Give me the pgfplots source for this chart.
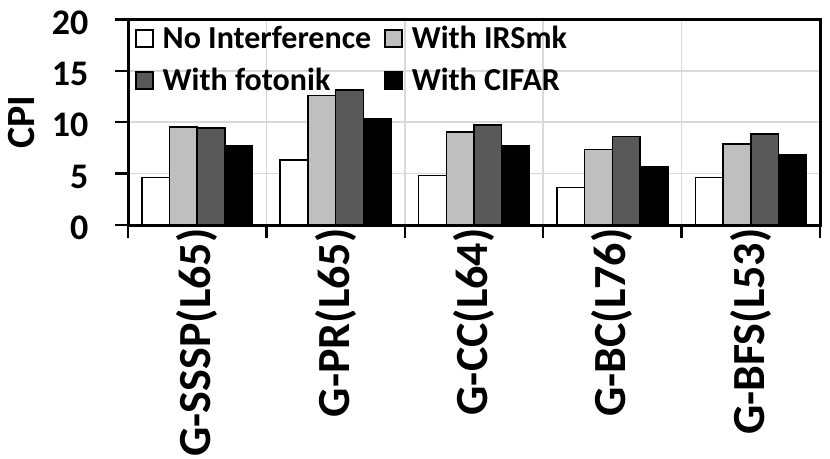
\documentclass[border=0pt]{standalone}
\usepackage{fontspec}
\setmainfont{Carlito}
\usepackage{pgfplots}
\pgfplotsset{compat=1.18}
\definecolor{lgray}{HTML}{BFBFBF}
\definecolor{dgray}{HTML}{595959}
\definecolor{gridc}{HTML}{D9D9D9}
\begin{document}
\begin{tikzpicture}
\begin{axis}[
  at={(128pt,233pt)}, anchor=south west,
  scale only axis, width=692pt, height=205.5pt,
  xmin=-0.5, xmax=4.5, ymin=0, ymax=20,
  ybar=0pt, bar width=0.2,
  xtick={-0.5,0.5,1.5,2.5,3.5,4.5},
  xticklabels={},
  extra x ticks={0,1,2,3,4},
  extra x tick labels={G-SSSP(L65),G-PR(L65),G-CC(L64),G-BC(L76),G-BFS(L53)},
  extra x tick style={grid=none, major tick length=0pt, tick style={draw=none}},
  xticklabel style={rotate=90, anchor=east, font=\fontsize{46}{46}\selectfont\bfseries},
  ytick={0,5,10,15,20},
  tick pos=left,
  tick align=outside,
  major tick length=13pt,
  tick style={black, line width=2.5pt},
  xmajorgrids, ymajorgrids,
  grid style={gridc, line width=1.5pt},
  axis line style={line width=3pt},
  /pgf/number format/assume math mode=true,
  yticklabel style={font=\fontsize{36}{36}\selectfont\bfseries, xshift=-23pt, yshift=-3pt},
  ylabel={CPI},
  every axis y label/.style={at={(axis description cs:0,0.5)}, xshift=-106pt, rotate=90, anchor=center, font=\fontsize{40}{40}\selectfont\bfseries},
  legend columns=2,
  legend cell align=left,
  legend style={draw=none, fill=none, at={(0,1)}, xshift=7pt, yshift=-6pt, anchor=north west,
    inner sep=0pt, font=\fontsize{32}{32}\selectfont\bfseries,
    nodes={inner sep=0pt, text height=23pt, text depth=6pt},
    row sep=13pt,
    /tikz/every even column/.append style={column sep=13pt},
    /tikz/every odd column/.append style={column sep=9pt}},
  legend image code/.code={\draw[#1, line width=1.5pt] (0pt,-7pt) rectangle (17pt,10pt);},
]
\addplot[fill=white, draw=black, line width=1.5pt] coordinates {(0,4.64) (1,6.32) (2,4.83) (3,3.63) (4,4.64)};
\addplot[fill=lgray, draw=black, line width=1.5pt] coordinates {(0,9.56) (1,12.6) (2,9.05) (3,7.36) (4,7.88)};
\addplot[fill=dgray, draw=black, line width=1.5pt] coordinates {(0,9.43) (1,13.16) (2,9.73) (3,8.6) (4,8.88)};
\addplot[fill=black, draw=black, line width=1.5pt] coordinates {(0,7.75) (1,10.3) (2,7.75) (3,5.71) (4,6.88)};
\legend{No Interference, With IRSmk, With fotonik, With CIFAR}
\end{axis}
\pgfresetboundingbox
\path[use as bounding box] (0pt,0pt) rectangle (830pt,458pt);
\end{tikzpicture}
\end{document}
